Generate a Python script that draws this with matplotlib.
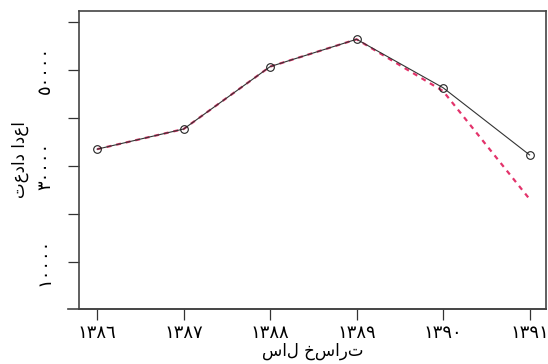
import matplotlib
matplotlib.use("Agg")
import matplotlib.pyplot as plt

# data
years = [1386, 1387, 1388, 1389, 1390, 1391]
claims = [33500, 37700, 50700, 56400, 46300, 32300]
fitted = [33500, 37700, 50700, 56400, 45600, 23100]
year_labels = ["١٣٨٦", "١٣٨٧", "١٣٨٨", "١٣٨٩", "١٣٩٠", "١٣٩١"]
ytick_vals = [10000, 20000, 30000, 40000, 50000, 60000]
ytick_labels = ["١٠٠٠٠", "", "٣٠٠٠٠", "", "٥٠٠٠٠", ""]
# pre-shaped (presentation forms, visual order) Persian strings
xlabel_txt = "سال خسارت"
ylabel_txt = "تعداد ادعا"

plt.rcParams['font.family'] = ['DejaVu Sans']

fig = plt.figure(figsize=(5.48, 3.64), dpi=100)
ax = fig.add_axes([79/548, 1-309/364, (546-79)/548, (309-11)/364])

ax.plot(years, fitted, color='#e3336b', lw=1.6, ls=(0, (2.2, 2.2)), zorder=2)
ax.plot(years, claims, color='#333333', lw=0.8, zorder=3,
        marker='o', ms=5.5, mfc='none', mec='#222222', mew=0.8)

ax.set_xlim(1385.79, 1391.19)
ax.set_ylim(200, 62290)
ax.set_xticks(years)
ax.set_xticklabels(year_labels, fontsize=13)
ax.set_yticks(ytick_vals)
ax.set_yticklabels(ytick_labels, fontsize=13, rotation=90, va='center')
ax.tick_params(axis='both', direction='out', length=8, width=0.9, color='#333333')
ax.tick_params(axis='x', pad=3)
ax.tick_params(axis='y', pad=10)

for s in ax.spines.values():
    s.set_linewidth(1.2)
    s.set_color('#444444')

# bottom axis line extends slightly left of the box, as in the reference
ax.plot([-11/467, 1.0], [0, 0], transform=ax.transAxes, color='#444444',
        lw=1.2, clip_on=False, zorder=5)

ax.set_xlabel(xlabel_txt, fontsize=12, labelpad=0)
ax.set_ylabel(ylabel_txt, fontsize=12, labelpad=5)

fig.savefig("out.png", dpi=100)
